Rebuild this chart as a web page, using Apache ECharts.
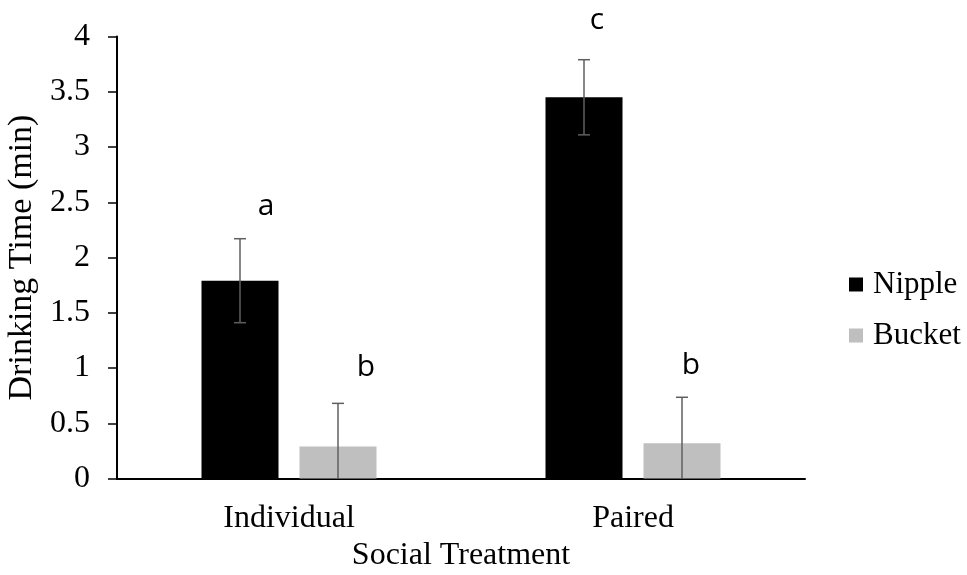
<!DOCTYPE html>
<html>
<head>
<meta charset="utf-8">
<script src="https://cdn.jsdelivr.net/npm/echarts@6/dist/echarts.min.js"></script>
<style>html,body{margin:0;padding:0;background:#fff;}#chart{width:967px;height:575px;}</style>
</head>
<body>
<div id="chart"></div>
<script>
// ---- data ----
const categories = ['Individual', 'Paired'];
const nippleValues = [1.79, 3.45];
const bucketValues = [0.29, 0.32];
const nippleErrors = [0.38, 0.34];
const bucketErrors = [0.39, 0.415];
const nippleLetters = ['a', 'c'];
const bucketLetters = ['b', 'b'];
const nippleLetterHeights = [2.466, 4.149];
const bucketLetterHeights = [1.005, 1.023];
const yTicks = [0, 0.5, 1, 1.5, 2, 2.5, 3, 3.5, 4];

// ---- styles ----
const SERIF = '"Liberation Serif", "Times New Roman", serif';
const SANS = '"Open Sans", Lato, sans-serif';
const BAR_W = 77, BAR_GAP = 21;
const SHIFT = (BAR_W + BAR_GAP) / 2;
const ERR_COLOR = '#5f5f5f';

function errRender(shift, letters, letterHeights, letterDx) {
  return function (params, api) {
    const i = api.value(0), v = api.value(1), e = api.value(2);
    const top = api.coord([i, v + e]);
    const low = Math.max(0, v - e);
    const bot = api.coord([i, low]);
    const x = top[0] + shift;
    const lp = api.coord([i, letterHeights[i]]);
    const st = { stroke: ERR_COLOR, lineWidth: 1.5 };
    const children = [
      { type: 'line', shape: { x1: x, y1: top[1], x2: x, y2: bot[1] }, style: st },
      { type: 'line', shape: { x1: x - 6, y1: top[1], x2: x + 6, y2: top[1] }, style: st }
    ];
    if (low > 0) children.push({ type: 'line', shape: { x1: x - 6, y1: bot[1], x2: x + 6, y2: bot[1] }, style: st });
    children.push({
      type: 'text', x: x + letterDx[i], y: lp[1],
      style: { text: letters[i], fill: '#000', fontFamily: SANS, fontSize: 30, align: 'center', verticalAlign: 'middle' }
    });
    return { type: 'group', children: children };
  };
}

const chart = echarts.init(document.getElementById('chart'), null, { renderer: 'canvas' });
chart.setOption({
  backgroundColor: '#fff',
  animation: false,
  grid: { left: 117, right: 162, top: 36.5, bottom: 96.5, containLabel: false, outerBoundsMode: 'none' },
  legend: {
    data: ['Nipple', 'Bucket'],
    orient: 'vertical', left: 849, top: 269, padding: 0,
    itemWidth: 14, itemHeight: 14, itemGap: 20,
    icon: 'rect',
    textStyle: { fontFamily: SERIF, fontSize: 31, color: '#000', padding: [0, 0, 0, 5] }
  },
  xAxis: {
    type: 'category', data: categories,
    axisLine: { lineStyle: { color: '#000', width: 2 } },
    axisTick: { show: false },
    axisLabel: { fontFamily: SERIF, fontSize: 32, color: '#000', margin: 24 },
    name: 'Social Treatment', nameLocation: 'middle', nameGap: 60,
    nameTextStyle: { fontFamily: SERIF, fontSize: 32, color: '#000' }
  },
  yAxis: {
    type: 'value', min: 0, max: 4, interval: 0.5,
    axisLine: { show: true, lineStyle: { color: '#000', width: 2 } },
    axisTick: { show: true, length: 9, lineStyle: { color: '#000', width: 1.5 } },
    splitLine: { show: false },
    axisLabel: { fontFamily: SERIF, fontSize: 32, color: '#000', margin: 27,
      formatter: v => yTicks.includes(v) ? String(v) : '' },
    name: 'Drinking Time (min)', nameLocation: 'middle', nameGap: 78, nameRotate: 90,
    nameTextStyle: { fontFamily: SERIF, fontSize: 34, color: '#000' }
  },
  series: [
    { name: 'Nipple', type: 'bar', data: nippleValues, barWidth: BAR_W, barGap: (BAR_GAP / BAR_W * 100) + '%',
      itemStyle: { color: '#000000' } },
    { name: 'Bucket', type: 'bar', data: bucketValues, barWidth: BAR_W,
      itemStyle: { color: '#bfbfbf' } },
    { type: 'custom', z: 5, silent: true, clip: false,
      renderItem: errRender(-SHIFT, nippleLetters, nippleLetterHeights, [26, 13]),
      encode: { x: 0, y: 1 },
      data: categories.map((c, i) => [i, nippleValues[i], nippleErrors[i]]) },
    { type: 'custom', z: 5, silent: true, clip: false,
      renderItem: errRender(SHIFT, bucketLetters, bucketLetterHeights, [28, 9]),
      encode: { x: 0, y: 1 },
      data: categories.map((c, i) => [i, bucketValues[i], bucketErrors[i]]) }
  ]
});
</script>
</body>
</html>
